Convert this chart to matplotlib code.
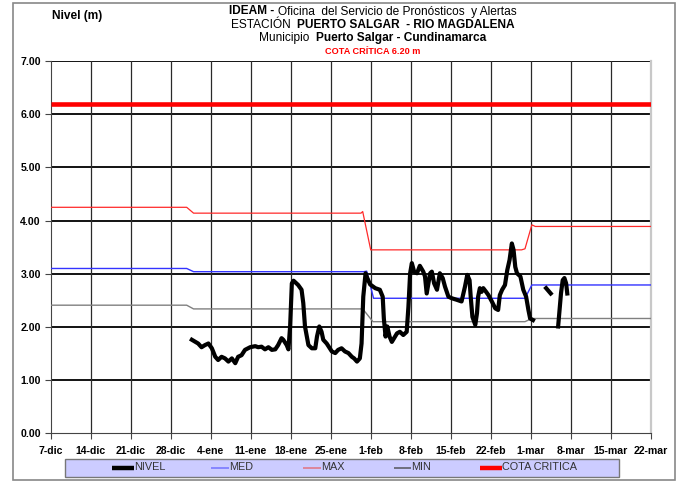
import numpy as np
import matplotlib
matplotlib.use("Agg")
import matplotlib.pyplot as plt
from matplotlib import font_manager
from matplotlib.patches import Rectangle
from matplotlib.lines import Line2D

names = {f.name for f in font_manager.fontManager.ttflist}
FAM = "Liberation Sans Narrow" if "Liberation Sans Narrow" in names else "Liberation Sans"
NARROW = FAM == "Liberation Sans Narrow"
plt.rcParams["font.family"] = [FAM, "DejaVu Sans"]

# ---------------- data (x = days since 7-dic) ----------------
week_labels = ["7-dic", "14-dic", "21-dic", "28-dic", "4-ene", "11-ene", "18-ene", "25-ene",
               "1-feb", "8-feb", "15-feb", "22-feb", "1-mar", "8-mar", "15-mar", "22-mar"]
y_labels = ["0.00", "1.00", "2.00", "3.00", "4.00", "5.00", "6.00", "7.00"]

nivel_days = [24.7, 25.8, 26.4, 27.0, 27.6, 28.2, 28.8, 29.3, 29.9, 30.5, 31.1, 31.7, 32.3, 32.8,
              33.4, 34.0, 34.9, 35.8, 36.3, 36.9, 37.5, 38.1, 38.7, 39.3, 39.8, 40.4, 40.7, 41.3,
              41.6, 41.9, 42.2, 42.5, 43.3, 43.9, 44.2, 44.5, 45.1, 45.7, 46.3, 46.6, 47.0, 47.4,
              47.7, 48.3, 49.2, 49.8, 50.3, 50.9, 51.5, 52.1, 52.7, 53.1, 53.6, 54.1, 54.4, 54.7,
              55.1, 55.4, 55.9, 56.8, 57.6, 58.1, 58.3, 58.6, 58.9, 59.3, 59.7, 60.1, 60.6, 61.1,
              61.7, 62.3, 62.6, 62.9, 63.2, 63.6, 64.1, 64.6, 65.2, 65.5, 65.8, 66.4, 66.7, 67.1,
              67.6, 68.1, 68.6, 69.0, 69.6, 70.2, 71.1, 71.9, 72.5, 72.9, 73.3, 73.5, 73.8, 74.3,
              74.6, 74.8, 75.1, 75.4, 75.7, 76.2, 76.6, 77.2, 77.8, 78.3, 78.6, 79.0, 79.5, 79.9,
              80.3, 80.7, 81.0, 81.3, 81.6, 82.2, 82.7, 83.2, 83.6, 83.9, 84.4, 85.5,
              86.7, 87.5, 88.2,
              88.8, 89.3, 89.6, 89.9, 90.2, 90.4]
nivel_vals = [1.76, 1.69, 1.62, 1.66, 1.69, 1.60, 1.44, 1.38, 1.44, 1.41, 1.35, 1.41, 1.32, 1.44,
              1.47, 1.57, 1.62, 1.64, 1.62, 1.63, 1.58, 1.62, 1.57, 1.58, 1.66, 1.79, 1.76, 1.66,
              1.58, 2.01, 2.82, 2.87, 2.79, 2.70, 2.45, 2.01, 1.66, 1.60, 1.60, 1.82, 2.01, 1.91,
              1.76, 1.69, 1.54, 1.51, 1.57, 1.60, 1.54, 1.51, 1.44, 1.41, 1.35, 1.41, 1.69, 2.57,
              3.01, 2.92, 2.80, 2.73, 2.70, 2.57, 2.16, 1.82, 2.01, 1.82, 1.72, 1.79, 1.88, 1.91,
              1.85, 1.91, 2.38, 3.01, 3.20, 3.04, 3.01, 3.15, 3.04, 2.95, 2.63, 3.01, 3.04, 2.82,
              2.70, 3.01, 2.92, 2.76, 2.57, 2.54, 2.51, 2.48, 2.76, 2.98, 2.88, 2.57, 2.19, 2.04,
              2.26, 2.57, 2.73, 2.66, 2.73, 2.66, 2.60, 2.48, 2.35, 2.32, 2.60, 2.70, 2.79, 3.07,
              3.26, 3.57, 3.45, 3.13, 3.01, 2.95, 2.70, 2.57, 2.32, 2.16, 2.13, np.nan,
              2.73, 2.63, np.nan,
              2.01, 2.63, 2.88, 2.92, 2.82, 2.63]

max_days = [0, 23.8, 25.0, 54.3, 54.6, 56.0, 82.4, 83.0, 84.2, 84.8, 105]
max_vals = [4.25, 4.25, 4.14, 4.14, 4.17, 3.45, 3.45, 3.47, 3.92, 3.89, 3.89]

med_days = [0, 23.8, 25.0, 54.8, 55.3, 56.5, 83.0, 84.2, 105]
med_vals = [3.10, 3.10, 3.04, 3.04, 3.05, 2.54, 2.54, 2.79, 2.79]

min_days = [0, 23.8, 25.0, 54.6, 56.4, 83.0, 84.2, 105]
min_vals = [2.41, 2.41, 2.34, 2.34, 2.10, 2.10, 2.16, 2.16]

cota_days = [0, 105]
cota_vals = [6.20, 6.20]

legend_labels = ["NIVEL", "MED", "MAX", "MIN", "COTA CRITICA"]

# ---------------- figure ----------------
W, H = 683, 483
fig = plt.figure(figsize=(W / 100, H / 100), dpi=100)
ax = fig.add_axes([50.7 / W, (H - 433.4) / H, 600 / W, (433.4 - 61) / H])

ax.set_xlim(0, 105)
ax.set_ylim(0, 7)
ax.set_xticks(np.arange(0, 106, 7))
ax.set_xticklabels(week_labels, fontweight="bold", fontsize=9 if NARROW else 7.6)
ax.set_yticks(np.arange(0, 8, 1))
ax.set_yticklabels(y_labels, fontweight="bold", fontsize=9 if NARROW else 7.6)
ax.tick_params(axis="both", direction="out", length=4, width=0.8, color="#444444")
ax.tick_params(axis="x", pad=5)
ax.tick_params(axis="y", pad=3)

for yv in range(1, 8):
    ax.axhline(yv, color="black", lw=1.3, zorder=1)
for xv in range(7, 105, 7):
    ax.axvline(xv, color="#2a2a2a", lw=0.9, zorder=1)

ax.spines["top"].set_visible(False)
ax.spines["right"].set_color("#c8c8c8")
ax.spines["right"].set_linewidth(1.6)
ax.spines["left"].set_color("#444444")
ax.spines["bottom"].set_color("#444444")

ax.plot(cota_days, cota_vals, color="#ff0000", lw=3.3, zorder=3, solid_capstyle="butt")
ax.plot(max_days, max_vals, color="#ff2a2a", lw=0.9, zorder=3)
ax.plot(med_days, med_vals, color="#3333ff", lw=1.0, zorder=3)
ax.plot(min_days, min_vals, color="#808080", lw=1.0, zorder=3)
ax.plot(nivel_days, nivel_vals, color="black", lw=3.0, zorder=4, solid_joinstyle="round")

# ---------------- titles ----------------
def px(x, y):
    return x / W, (H - y) / H

renderer = fig.canvas.get_renderer()

def rich_line(ycen, parts, size, xcen=373):
    objs = []
    for s, weight, color in parts:
        t = fig.text(0, 0, s, fontsize=size, fontweight=weight, color=color,
                     va="center", ha="left")
        objs.append(t)
    widths = [t.get_window_extent(renderer).width for t in objs]
    x = xcen - sum(widths) / 2
    for t, w in zip(objs, widths):
        t.set_position(px(x, ycen))
        x += w

ts = 10 if NARROW else 8.6
rich_line(11.5, [("IDEAM - ", "bold", "black"),
                 ("Oficina  del Servicio de Pronósticos  y Alertas", "normal", "black")], ts)
rich_line(24.5, [("ESTACIÓN  ", "normal", "black"),
                 ("PUERTO SALGAR  - RIO MAGDALENA", "bold", "black")], ts)
rich_line(38, [("Municipio  ", "normal", "black"),
               ("Puerto Salgar - Cundinamarca", "bold", "black")], ts)
rich_line(51, [("COTA CRÍTICA 6.20 m", "bold", "#ff0000")], 7.5 if NARROW else 6.6)

fig.text(*px(52, 16), "Nivel (m)", fontsize=ts, fontweight="bold", ha="left", va="center")

# ---------------- legend (drawn manually) ----------------
dx = 4.0
leg_box = Rectangle(px(60.5 + dx, 476.5), (615.4 - 60.5) / W, (476.5 - 458.5) / H,
                    transform=fig.transFigure, facecolor="#ccccff",
                    edgecolor="#777777", lw=1.0, zorder=5)
fig.patches.append(leg_box)
leg_styles = [("black", 3.2, 108.3, 130.1),
              ("#7a7aff", 1.2, 207.0, 225.2),
              ("#e07a8a", 1.2, 299.0, 317.2),
              ("#6e6e7e", 1.4, 390.0, 407.0),
              ("#ff0000", 3.2, 476.2, 498.0)]
ly = 467.5
for (col, lw, x0, x1), lab in zip(leg_styles, legend_labels):
    fig.lines.append(Line2D([(x0 + dx) / W, (x1 + dx) / W], [(H - ly) / H] * 2, color=col,
                            lw=lw, transform=fig.transFigure, zorder=6, solid_capstyle="butt"))
    fig.text((x1 + dx) / W, (H - ly) / H, lab, fontsize=9 if NARROW else 7.8, color="#333333",
             ha="left", va="center", zorder=6)

# outer border
fig.patches.append(Rectangle(px(12.7, 480), (675 - 12.7) / W, (480 - 3) / H,
                             transform=fig.transFigure, fill=False,
                             edgecolor="#888888", lw=1.2))

fig.savefig("out.png", dpi=100)
